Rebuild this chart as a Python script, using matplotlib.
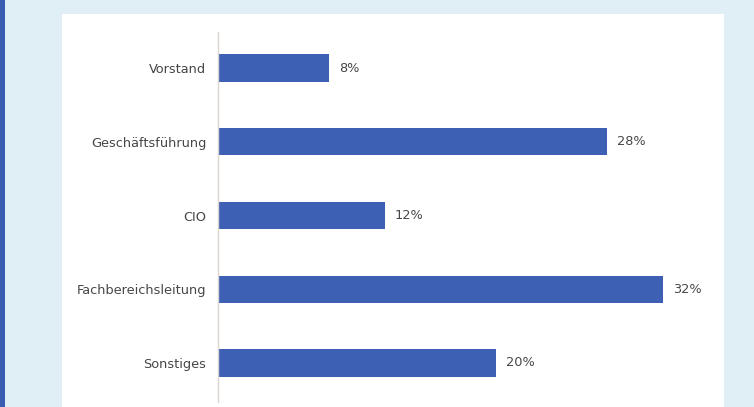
import matplotlib
matplotlib.use("Agg")
import matplotlib.pyplot as plt
from matplotlib.patches import Rectangle

categories = ["Vorstand", "Geschäftsführung", "CIO", "Fachbereichsleitung", "Sonstiges"]
values = [8, 28, 12, 32, 20]
value_labels = ["8%", "28%", "12%", "32%", "20%"]

W, H = 754, 407
fig = plt.figure(figsize=(W / 100, H / 100), dpi=100)
fig.patch.set_facecolor("#dfeff5")

# backdrop: accent strip on the left and the white card
fig.patches.append(Rectangle((0, 0), 4.5 / W, 1, transform=fig.transFigure,
                             facecolor="#3a5cb0", edgecolor="none", zorder=-10))
fig.patches.append(Rectangle((62 / W, 0), (724 - 62) / W, (H - 14) / H,
                             transform=fig.transFigure, facecolor="white",
                             edgecolor="none", zorder=-10))

ax_left, ax_right = 218, 700
ax_top, ax_bottom = 32, 402
ax = fig.add_axes([ax_left / W, 1 - ax_bottom / H,
                   (ax_right - ax_left) / W, (ax_bottom - ax_top) / H])
ax.set_facecolor("none")
ax.set_zorder(5)

px_per_unit = 13.9
ax.set_xlim(0, (ax_right - ax_left) / px_per_unit)
ax.set_ylim(4.53, -0.49)

text_font = "DejaVu Sans"
text_color = "#464646"

pos = list(range(len(categories)))
ax.barh(pos, values, height=0.37, color="#3d60b4", edgecolor="none")

for p, v, lab in zip(pos, values, value_labels):
    ax.annotate(lab, (v, p), xytext=(10, 0), textcoords="offset pixels",
                va="center", ha="left", fontsize=9.3, color=text_color,
                family=text_font)

ax.set_yticks(pos)
ax.set_yticklabels(categories, fontsize=9.3, color=text_color, family=text_font)
ax.tick_params(axis="y", length=0, pad=8.5)
ax.set_xticks([])

for s in ["top", "right", "bottom"]:
    ax.spines[s].set_visible(False)
ax.spines["left"].set_color("#d9d4cf")
ax.spines["left"].set_linewidth(1.0)

fig.savefig("out.png", dpi=100)
